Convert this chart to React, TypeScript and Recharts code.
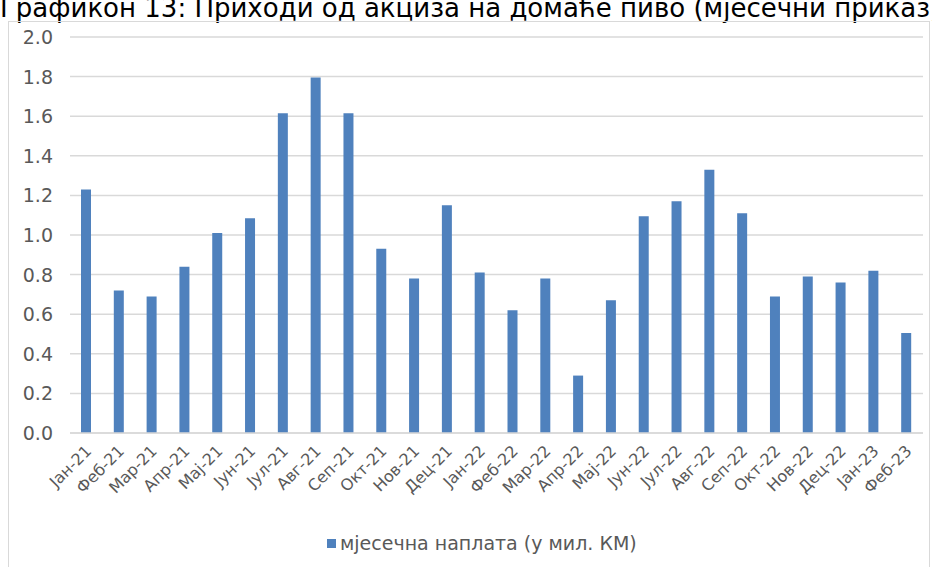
import React from 'react';
import { BarChart, Bar, XAxis, YAxis, CartesianGrid } from 'recharts';

const TITLE = 'Графикон 13: Приходи од акциза на домаће пиво (мјесечни приказ)';
const SERIES_NAME = 'мјесечна наплата (у мил. КМ)';

const months: string[] = [
  'Јан-21', 'Феб-21', 'Мар-21', 'Апр-21', 'Мај-21', 'Јун-21', 'Јул-21', 'Авг-21', 'Сеп-21',
  'Окт-21', 'Нов-21', 'Дец-21', 'Јан-22', 'Феб-22', 'Мар-22', 'Апр-22', 'Мај-22', 'Јун-22',
  'Јул-22', 'Авг-22', 'Сеп-22', 'Окт-22', 'Нов-22', 'Дец-22', 'Јан-23', 'Феб-23',
];

const collections: number[] = [
  1.23, 0.72, 0.69, 0.84, 1.01, 1.085, 1.615, 1.795, 1.615,
  0.93, 0.78, 1.15, 0.81, 0.62, 0.78, 0.29, 0.67, 1.095,
  1.17, 1.33, 1.11, 0.69, 0.79, 0.76, 0.82, 0.505,
];

const yTicks: number[] = [0, 0.2, 0.4, 0.6, 0.8, 1.0, 1.2, 1.4, 1.6, 1.8, 2.0];

const data = months.map((m, i) => ({ month: m, value: collections[i] }));

const BAR_COLOR = '#4f81bd';
const TEXT_COLOR = '#595959';
const GRID_COLOR = '#d9d9d9';
const FONT = '"DejaVu Sans", Verdana, sans-serif';

const XTick = (props: any) => {
  const { x, y, payload } = props;
  const ax = x + 6;
  const ay = y + 11;
  return (
    <text
      x={ax}
      y={ay}
      transform={`rotate(-45, ${ax}, ${ay})`}
      textAnchor="end"
      fontSize={16}
      fill={TEXT_COLOR}
      fontFamily={FONT}
    >
      {payload.value}
    </text>
  );
};

const YTick = (props: any) => {
  const { y, payload } = props;
  return (
    <text
      x={53}
      y={y}
      dy={7}
      textAnchor="end"
      fontSize={19}
      fill={TEXT_COLOR}
      fontFamily={FONT}
    >
      {Number(payload.value).toFixed(1)}
    </text>
  );
};

export default function App() {
  return (
    <div
      style={{
        position: 'absolute',
        left: 0,
        top: 0,
        width: 932,
        height: 567,
        overflow: 'hidden',
        background: '#fff',
        fontFamily: FONT,
      }}
    >
      <div
        style={{
          position: 'absolute',
          left: 0,
          top: -5,
          fontSize: 26,
          lineHeight: '26px',
          whiteSpace: 'nowrap',
          color: '#000',
        }}
      >
        {TITLE}
      </div>
      <div
        style={{
          position: 'absolute',
          left: 8,
          top: 21,
          width: 922,
          height: 600,
          border: `1px solid ${GRID_COLOR}`,
          boxSizing: 'border-box',
        }}
      />
      <div style={{ position: 'absolute', left: 0, top: 0 }}>
        <BarChart
          width={932}
          height={567}
          data={data}
          margin={{ top: 37, right: 9, left: 10, bottom: 0 }}
          barCategoryGap={0}
        >
          <CartesianGrid vertical={false} stroke={GRID_COLOR} strokeWidth={1.5} />
          <XAxis
            dataKey="month"
            interval={0}
            height={134}
            tickLine={false}
            axisLine={{ stroke: GRID_COLOR, strokeWidth: 1.5 }}
            tick={<XTick />}
          />
          <YAxis
            width={60}
            domain={[0, 2]}
            ticks={yTicks}
            interval={0}
            tickLine={false}
            axisLine={false}
            tick={<YTick />}
          />
          <Bar dataKey="value" name={SERIES_NAME} fill={BAR_COLOR} barSize={10} isAnimationActive={false} />
        </BarChart>
      </div>
      <div
        style={{
          position: 'absolute',
          left: 327,
          top: 530,
          display: 'flex',
          alignItems: 'center',
          whiteSpace: 'nowrap',
        }}
      >
        <span style={{ display: 'inline-block', width: 9, height: 9, background: BAR_COLOR, marginRight: 4 }} />
        <span style={{ fontSize: 19, color: TEXT_COLOR, lineHeight: '26px' }}>{SERIES_NAME}</span>
      </div>
    </div>
  );
}
